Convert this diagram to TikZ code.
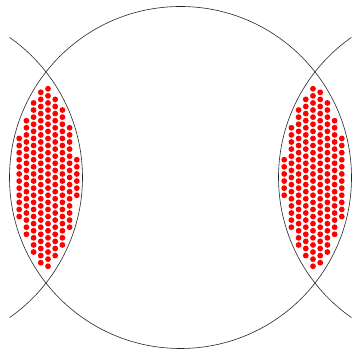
\documentclass[tikz,border=0pt]{standalone}
\usepackage{tikz}

\begin{document}
\begin{tikzpicture}[
  x=1pt, y=-1pt,
  ring/.style={draw=black!85, line width=0.6pt},
  dot/.style={fill=red}
]
\useasboundingbox (0,0) rectangle (354,352);

% big circle and the two side arcs
\draw[ring] (180.5,177.5) circle (171);
\draw[ring] (-88.5,177.5) ++(-55:171) arc[start angle=-55, end angle=55, radius=171];
\draw[ring] (449.5,177.5) ++(125:171) arc[start angle=125, end angle=235, radius=171];

% dots in the two lenses
\foreach \i in {0,...,10} {
  \foreach \j in {-15,...,15} {
    \pgfmathsetmacro\px{12+7.2*\i}
    \pgfmathsetmacro\py{177.5+7.1*\j+3.55*mod(\i,2)}
    \pgfmathsetmacro\da{veclen(\px-180.5,\py-177.5)}
    \pgfmathsetmacro\db{veclen(\px+88.5,\py-177.5)}
    \pgfmathtruncatemacro\inside{and(\da<166.5,\db<166.5)}
    \ifnum\inside=1
      \fill[dot] (\px,\py) circle (2.9);
      \fill[dot] (361-\px,\py) circle (2.9);
    \fi
  }
}
\end{tikzpicture}
\end{document}
